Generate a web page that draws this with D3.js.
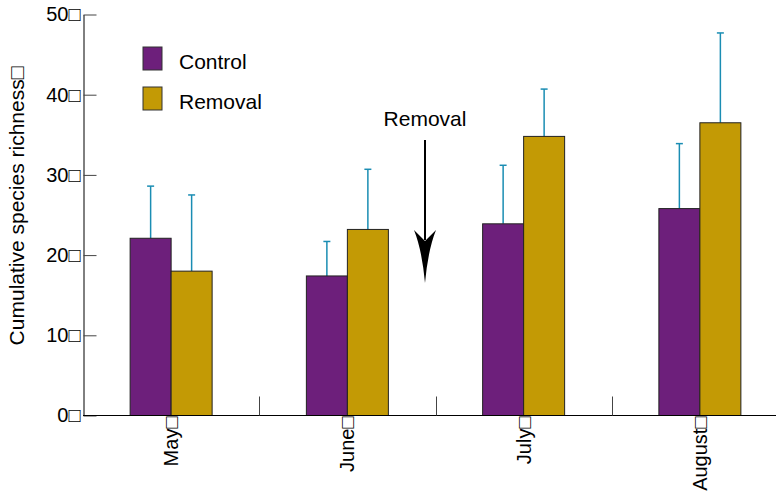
<!DOCTYPE html>
<html>
<head>
<meta charset="utf-8">
<style>
body { margin: 0; background: #fff; }
text { font-family: "Liberation Sans", Arial, Helvetica, sans-serif; fill: #000; }
</style>
</head>
<body>
<svg></svg>
<script src="https://d3js.org/d3.v7.min.js"></script>
<script>
var months = ["May", "June", "July", "August"];
var series = ["Control", "Removal"];
var control = [22.1, 17.4, 23.9, 25.8];
var controlErr = [6.5, 4.3, 7.3, 8.1];
var removal = [18.0, 23.2, 34.8, 36.5];
var removalErr = [9.5, 7.5, 5.9, 11.2];
var yTicks = [0, 10, 20, 30, 40, 50];
var colors = ["#6d1f7b", "#c39a05"];
var BOX = "\u25A1";

var width = 776, height = 494;
var svg = d3.select("svg").attr("width", width).attr("height", height);

var x = d3.scaleBand().domain(months).range([83, 788]).padding(0);
var y = d3.scaleLinear().domain([0, 50]).range([415.5, 14.5]);
var barW = 41;

var rows = months.map(function(m, i) {
  return [
    {month: m, s: 0, v: control[i], e: controlErr[i]},
    {month: m, s: 1, v: removal[i], e: removalErr[i]}
  ];
});
var flat = [].concat.apply([], rows);

function cx(d) { return x(d.month) + x.bandwidth() / 2 + (d.s === 0 ? -barW / 2 : barW / 2); }

// error bars (drawn first, bars cover the lower half)
var err = svg.append("g").attr("stroke", "#1a8db3").attr("stroke-width", 1.5);
err.selectAll("line.v").data(flat).enter().append("line")
    .attr("x1", cx).attr("x2", cx)
    .attr("y1", function(d) { return y(d.v); })
    .attr("y2", function(d) { return y(d.v + d.e); });
err.selectAll("line.c").data(flat).enter().append("line")
    .attr("x1", function(d) { return cx(d) - 3.5; })
    .attr("x2", function(d) { return cx(d) + 3.5; })
    .attr("y1", function(d) { return y(d.v + d.e); })
    .attr("y2", function(d) { return y(d.v + d.e); });

// bars
svg.append("g").selectAll("rect").data(flat).enter().append("rect")
    .attr("x", function(d) { return cx(d) - barW / 2; })
    .attr("width", barW)
    .attr("y", function(d) { return y(d.v); })
    .attr("height", function(d) { return y(0) - y(d.v); })
    .attr("fill", function(d) { return colors[d.s]; })
    .attr("stroke", "#222")
    .attr("stroke-width", 1);

// y axis
var yAxis = svg.append("g").attr("transform", "translate(83.5,0)")
    .call(d3.axisLeft(y).tickValues(yTicks).tickSizeInner(-13).tickSizeOuter(0).tickPadding(3)
      .tickFormat(function(d) { return d + BOX; }));
yAxis.select(".domain").attr("stroke", "#000");
yAxis.selectAll(".tick line").attr("stroke", "#444");
yAxis.selectAll("text").attr("font-size", 20).attr("font-family", null).attr("fill", "#000");

// x axis
var xAxis = svg.append("g").attr("transform", "translate(0,415.5)")
    .call(d3.axisBottom(x).tickSize(0).tickPadding(0).tickFormat(function(d) { return d + BOX; }));
xAxis.select(".domain").attr("d", "M83,0H776").attr("stroke", "#000");
xAxis.selectAll("text")
    .attr("font-size", 20).attr("font-family", null).attr("fill", "#000")
    .attr("transform", "rotate(-90)")
    .attr("text-anchor", "end")
    .attr("x", -1).attr("y", 0).attr("dy", "0.35em");

// separators between months
svg.append("g").selectAll("line").data(months.slice(1)).enter().append("line")
    .attr("x1", function(d) { return Math.round(x(d)) + 0.5; })
    .attr("x2", function(d) { return Math.round(x(d)) + 0.5; })
    .attr("y1", y(0)).attr("y2", y(0) - 19)
    .attr("stroke", "#444");

// y label
svg.append("text")
    .attr("transform", "translate(24," + 206 + ") rotate(-90)")
    .attr("text-anchor", "middle")
    .attr("font-size", 21)
    .text("Cumulative species richness" + BOX);

// legend
var leg = svg.append("g").selectAll("g").data(series).enter().append("g")
    .attr("transform", function(d, i) { return "translate(143," + (47 + i * 40) + ")"; });
leg.append("rect").attr("width", 19).attr("height", 23)
    .attr("fill", function(d, i) { return colors[i]; })
    .attr("stroke", "#333");
leg.append("text").attr("x", 36).attr("y", 22).attr("font-size", 21).text(function(d) { return d; });

// removal annotation
svg.append("text").attr("x", 425).attr("y", 126).attr("text-anchor", "middle")
    .attr("font-size", 21).text("Removal");
svg.append("line").attr("x1", 425).attr("x2", 425).attr("y1", 140).attr("y2", 240)
    .attr("stroke", "#000").attr("stroke-width", 2);
svg.append("path")
    .attr("d", "M414,230 L425,241 L436,230 Q428,250 425,283 Q422,250 414,230 Z")
    .attr("fill", "#000");
</script>
</body>
</html>
